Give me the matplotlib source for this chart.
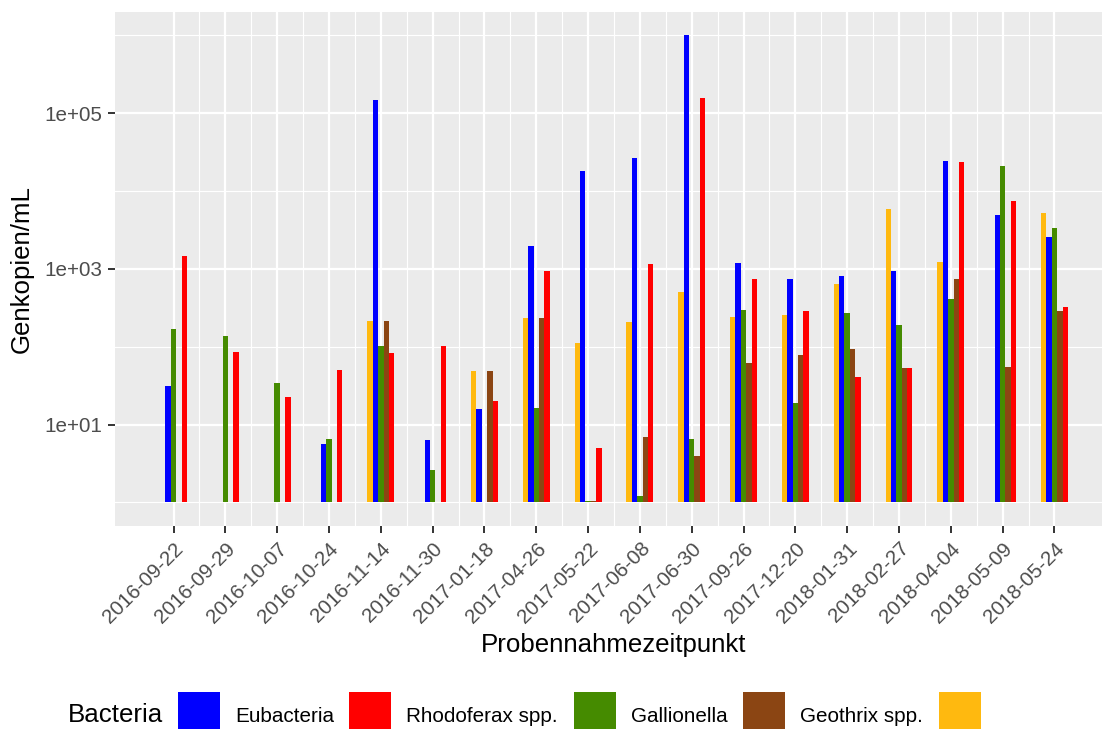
import numpy as np
import matplotlib.pyplot as plt
from matplotlib.patches import Rectangle
from matplotlib.ticker import FixedLocator, NullFormatter
from matplotlib.transforms import ScaledTranslation

nan = np.nan

dates = ["2016-09-22", "2016-09-29", "2016-10-07", "2016-10-24", "2016-11-14",
         "2016-11-30", "2017-01-18", "2017-04-26", "2017-05-22", "2017-06-08",
         "2017-06-30", "2017-09-26", "2017-12-20", "2018-01-31", "2018-02-27",
         "2018-04-04", "2018-05-09", "2018-05-24"]

eubacteria = [30.8, nan, nan, 5.6, 148000, 6.4, 15.9, 1940, 17900, 26300,
              1.0e6, 1200, 730, 820, 950, 24000, 4850, 2530]
rhodoferax = [1480, 86, 22.3, 49.5, 84, 103, 20.2, 950, 5.0, 1170,
              155000, 730, 290, 41, 54, 23300, 7350, 327]
gallionella = [171, 139, 34.4, 6.5, 103, 2.6, nan, 16.4, 1.03, 1.21,
               6.5, 299, 19, 274, 192, 415, 20700, 3300]
geothrix = [nan, nan, nan, nan, 216, nan, 49, 236, 1.03, 6.95,
            3.95, 62, 79, 94, 54, 750, 55, 290]
unnamed = [nan, nan, nan, nan, 216, nan, 49, 236, 112, 210,
           510, 243, 258, 647, 5800, 1242, nan, 5150]

# legend order
names = ["Eubacteria", "Rhodoferax spp.", "Gallionella", "Geothrix spp.", ""]
colors = ["#0000FF", "#FF0000", "#458B00", "#8B4513", "#FFB90F"]
values = [eubacteria, rhodoferax, gallionella, geothrix, unnamed]
# order of the bars inside each group
dodge_order = [4, 0, 2, 3, 1]

W, H = 1102, 729
fig = plt.figure(figsize=(W / 100, H / 100), dpi=100)
plt.rcParams['font.family'] = ['Liberation Sans', 'DejaVu Sans']

px_l, px_r, px_t, px_b = 115, 1113, 12, 525.7
ax = fig.add_axes([px_l / W, (H - px_b) / H, (px_r - px_l) / W, (px_b - px_t) / H])
ax.set_facecolor("#EBEBEB")
for s in ax.spines.values():
    s.set_visible(False)

x = np.arange(len(dates))
bw = 0.104
for slot, k in enumerate(dodge_order):
    v = np.array(values[k], dtype=float)
    ok = ~np.isnan(v)
    ax.bar(x[ok] + (slot - 2) * bw, v[ok] - 1, bottom=1, width=bw,
           color=colors[k], linewidth=0)

ax.set_yscale("log")
top = np.log10(np.nanmax(np.array(values, dtype=float)))
ax.set_ylim(10 ** (-0.05 * top), 10 ** (1.05 * top))
ax.set_xlim(-1.13, len(dates) - 1 + 1.13)

ax.yaxis.set_major_locator(FixedLocator([10, 1e3, 1e5]))
ax.yaxis.set_minor_locator(FixedLocator([1, 1e2, 1e4, 1e6]))
ax.yaxis.set_minor_formatter(NullFormatter())
ax.set_yticklabels(["1e+01", "1e+03", "1e+05"])
ax.set_xticks(x)
ax.set_xticks(x[:-1] + 0.5, minor=True)
ax.set_xticklabels(dates, rotation=45, ha="right", va="top", rotation_mode="anchor")
off = ScaledTranslation(5 / 100, 0, fig.dpi_scale_trans)
for lab in ax.get_xticklabels():
    lab.set_transform(lab.get_transform() + off)

ax.tick_params(which="major", length=5, width=1.4, color="#333333",
               labelsize=14.9, labelcolor="#4D4D4D", pad=4.5)
ax.tick_params(which="minor", length=0)
ax.grid(which="major", color="white", linewidth=1.6)
ax.grid(which="minor", color="white", linewidth=0.8)
ax.set_axisbelow(True)

fig.text(614 / W, (H - 652) / H, "Probennahmezeitpunkt", fontsize=18.6,
         ha="center", va="baseline")
fig.text(28.5 / W, (H - 269) / H, "Genkopien/mL", fontsize=18.6, rotation=90,
         ha="center", va="baseline", rotation_mode="anchor")

# legend
fig.text(68 / W, (H - 722.5) / H, "Bacteria", fontsize=18.6, va="baseline")
key_x = [178, 349, 574, 743, 939]
for kx, c, n in zip(key_x, colors, names):
    fig.add_artist(Rectangle((kx / W, (H - 734) / H), 42 / W, 42 / H,
                             transform=fig.transFigure, color=c, linewidth=0))
    if n:
        fig.text((kx + 57) / W, (H - 721.5) / H, n, fontsize=14.9, va="baseline")

fig.savefig("out.png", dpi=100)
